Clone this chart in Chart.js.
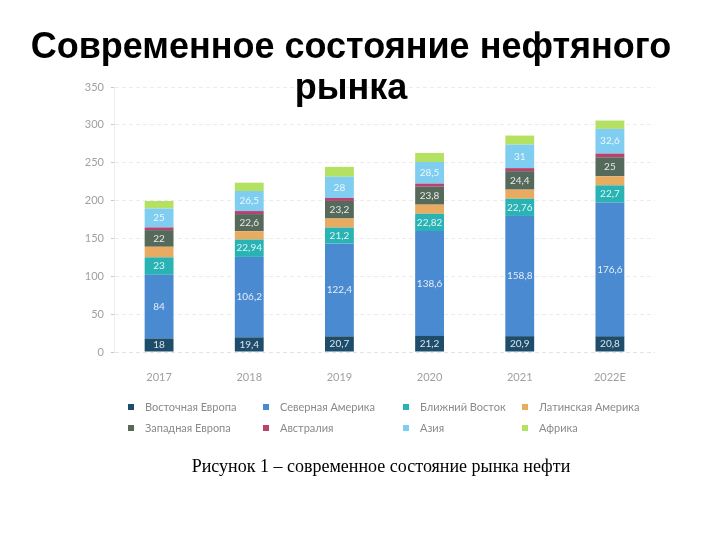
<!DOCTYPE html>
<html lang="ru">
  <head>
    <meta charset="UTF-8" />
    <title>Современное состояние нефтяного рынка</title>
    <style>
      body {
        margin: 0;
        background: #fff;
      }
      .page {
        position: relative;
        width: 720px;
        height: 540px;
        overflow: hidden;
      }
      #chart {
        position: absolute;
        left: 0;
        top: 0;
      }
      .title {
        position: absolute;
        left: 0;
        top: 25px;
        width: 702px;
        text-align: center;
        font: bold 36px "Liberation Sans", Arial, sans-serif;
        line-height: 41px;
        color: #000;
      }
      .caption {
        position: absolute;
        left: 0;
        top: 456px;
        width: 762px;
        text-align: center;
        font: 18px "Liberation Serif", "Times New Roman", serif;
        color: #000;
      }
      .legend-item {
        position: absolute;
        font: 11px Lato, "Open Sans", sans-serif;
        color: #8a8a8a;
        white-space: nowrap;
      }
      .legend-item span {
        display: inline-block;
        width: 6px;
        height: 6px;
        margin-right: 11px;
        vertical-align: 1px;
      }
    </style>
    <script src="https://cdn.jsdelivr.net/npm/chart.js"></script>
  </head>
  <body>
    <div class="page">
      <canvas id="chart" width="720" height="540"></canvas>
      <div class="title">Современное состояние нефтяного<br />рынка</div>
      <div id="legend"></div>
      <div class="caption">Рисунок 1 – современное состояние рынка нефти</div>
    </div>
    <script>
      var years = ["2017", "2018", "2019", "2020", "2021", "2022E"];
      var yTicks = [0, 50, 100, 150, 200, 250, 300, 350];

      var seriesNames = [
        "Восточная Европа",
        "Северная Америка",
        "Ближний Восток",
        "Латинская Америка",
        "Западная Европа",
        "Австралия",
        "Азия",
        "Африка",
      ];
      var seriesColors = [
        "#1e4d6b",
        "#4a8ad0",
        "#2ab3b4",
        "#e9ab5f",
        "#566a5c",
        "#b9436f",
        "#7fcdf0",
        "#b5e163",
      ];

      var easternEurope = [18, 19.4, 20.7, 21.2, 20.9, 20.8];
      var northAmerica = [84, 106.2, 122.4, 138.6, 158.8, 176.6];
      var middleEast = [23, 22.94, 21.2, 22.82, 22.76, 22.7];
      var latinAmerica = [14, 11, 12, 12, 12, 12];
      var westernEurope = [22, 22.6, 23.2, 23.8, 24.4, 25];
      var australia = [3.5, 4, 4, 4, 4, 5];
      var asia = [25, 26.5, 28, 28.5, 31, 32.6];
      var africa = [10, 11, 13, 12, 12, 11];

      // printed labels (null = segment without a label)
      var easternEuropeLabels = ["18", "19,4", "20,7", "21,2", "20,9", "20,8"];
      var northAmericaLabels = ["84", "106,2", "122,4", "138,6", "158,8", "176,6"];
      var middleEastLabels = ["23", "22,94", "21,2", "22,82", "22,76", "22,7"];
      var westernEuropeLabels = ["22", "22,6", "23,2", "23,8", "24,4", "25"];
      var asiaLabels = ["25", "26,5", "28", "28,5", "31", "32,6"];

      var seriesValues = [
        easternEurope,
        northAmerica,
        middleEast,
        latinAmerica,
        westernEurope,
        australia,
        asia,
        africa,
      ];
      var seriesLabels = [
        easternEuropeLabels,
        northAmericaLabels,
        middleEastLabels,
        null,
        westernEuropeLabels,
        null,
        asiaLabels,
        null,
      ];

      var datasets = seriesNames.map(function (name, i) {
        return {
          label: name,
          data: seriesValues[i],
          valueLabels: seriesLabels[i],
          backgroundColor: seriesColors[i],
          borderWidth: 0,
          barPercentage: 0.32,
          categoryPercentage: 1,
        };
      });

      var segmentLabels = {
        id: "segmentLabels",
        afterDatasetsDraw: function (chart) {
          var ctx = chart.ctx;
          ctx.save();
          ctx.font = "10px Lato, 'Open Sans', sans-serif";
          ctx.fillStyle = "rgba(255,255,255,0.85)";
          ctx.textAlign = "center";
          ctx.textBaseline = "middle";
          chart.data.datasets.forEach(function (ds, i) {
            if (!ds.valueLabels) return;
            chart.getDatasetMeta(i).data.forEach(function (bar, j) {
              var txt = ds.valueLabels[j];
              if (txt) ctx.fillText(txt, bar.x, (bar.y + bar.base) / 2);
            });
          });
          ctx.restore();
        },
      };

      var ctx = document.getElementById("chart").getContext("2d");
      var chart = new Chart(ctx, {
        type: "bar",
        data: { labels: years, datasets: datasets },
        plugins: [segmentLabels],
        options: {
          responsive: false,
          animation: false,
          layout: {
            padding: { left: 74, right: 65, top: 87, bottom: 148 },
          },
          plugins: {
            legend: { display: false },
            tooltip: { enabled: false },
          },
          scales: {
            x: {
              stacked: true,
              afterFit: function (scale) {
                scale.height = 40;
              },
              grid: { display: false },
              border: { display: false },
              ticks: {
                padding: 11,
                color: "#a0a0a0",
                font: { family: "Lato", size: 11 },
              },
            },
            y: {
              stacked: true,
              min: 0,
              max: 350,
              afterFit: function (scale) {
                scale.width = 40;
              },
              afterBuildTicks: function (scale) {
                scale.ticks = yTicks.map(function (v) {
                  return { value: v };
                });
              },
              grid: {
                color: function (c) {
                  return c.tick && c.tick.value === 0 ? "#e4e4e4" : "#ececec";
                },
                tickColor: "#c8c8c8",
                tickLength: 3,
                lineWidth: 1,
              },
              border: { display: true, color: "#eeeeee", dash: [4, 3] },
              ticks: {
                padding: 7,
                color: "#a0a0a0",
                font: { family: "Lato", size: 11 },
              },
            },
          },
        },
      });

      // legend: two rows of four, drawn from the series arrays
      var legendX = [128, 263, 403, 522];
      var legendY = [400, 421];
      var legend = document.getElementById("legend");
      seriesNames.forEach(function (name, i) {
        var item = document.createElement("div");
        item.className = "legend-item";
        item.style.left = legendX[i % 4] + "px";
        item.style.top = legendY[Math.floor(i / 4)] + "px";
        var box = document.createElement("span");
        box.style.background = seriesColors[i];
        item.appendChild(box);
        item.appendChild(document.createTextNode(name));
        legend.appendChild(item);
      });
    </script>
  </body>
</html>
